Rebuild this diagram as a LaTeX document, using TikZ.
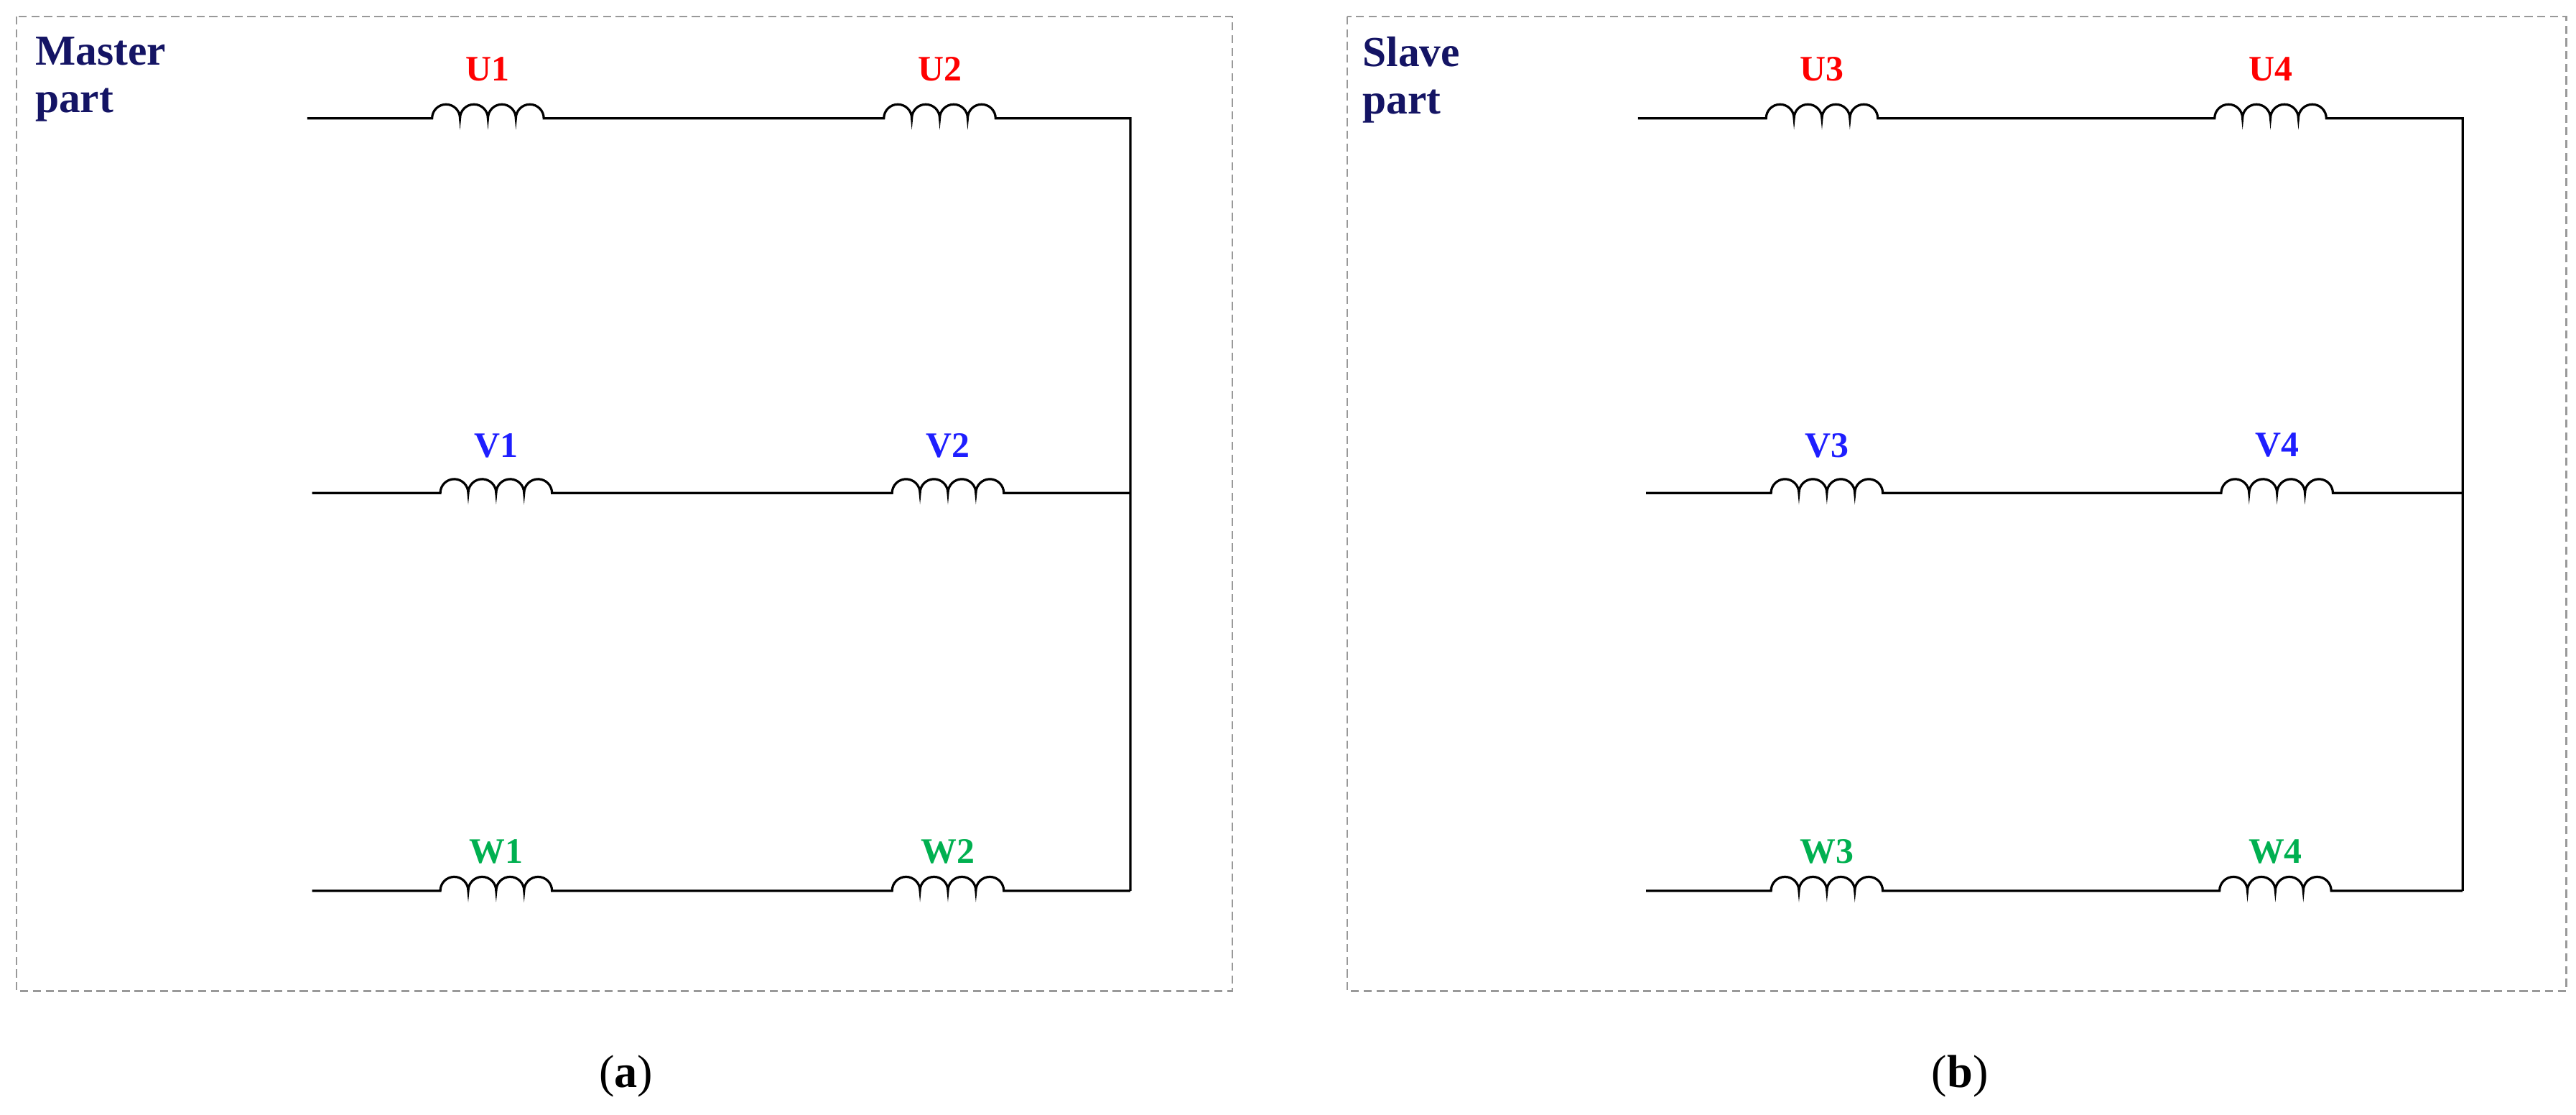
\documentclass[tikz,border=0pt]{standalone}
\usepackage{fontspec}
\setmainfont{Liberation Serif}
\begin{document}
\begin{tikzpicture}[x=0.05cm,y=-0.05cm,
  wire/.style={line width=2pt,black},
  coil/.style={to path={ arc[start angle=180,end angle=0,radius=0.425cm] arc[start angle=180,end angle=0,radius=0.425cm] arc[start angle=180,end angle=0,radius=0.425cm] arc[start angle=180,end angle=0,radius=0.425cm] -- (\tikztotarget)}},
  frame/.style={draw=gray!80,line width=1.5pt,dash pattern=on 7pt off 4pt},
  lab/.style={font=\fontsize{31}{33}\selectfont\bfseries},
  ured/.style={lab,text=red},
  vblue/.style={lab,text={rgb,255:red,30;green,30;blue,255}},
  wgreen/.style={lab,text={rgb,255:red,0;green,176;blue,80}},
  title/.style={font=\fontsize{37}{41}\selectfont\bfseries,text={rgb,255:red,20;green,20;blue,100},align=left,anchor=north west},
  captxt/.style={font=\fontsize{40}{44}\selectfont}]
\useasboundingbox (0,0) rectangle (1568,678);
\draw[frame] (10,10) rectangle (750,603);
\draw[frame] (820,10) rectangle (1562,603);
\node[title] (tm) at (19,20) {Master\\part};
\node[title] (ts) at (827,20) {Slave\\part};
% panel a
\coordinate (sU) at (187,72); \coordinate (U1a) at (263,72); \coordinate (U1b) at (331,72);
\coordinate (U2a) at (538,72); \coordinate (U2b) at (606,72); \coordinate (eU) at (688,72);
\coordinate (sV) at (190,300); \coordinate (V1a) at (268,300); \coordinate (V1b) at (336,300);
\coordinate (V2a) at (543,300); \coordinate (V2b) at (611,300); \coordinate (eV) at (688,300);
\coordinate (sW) at (190,542); \coordinate (W1a) at (268,542); \coordinate (W1b) at (336,542);
\coordinate (W2a) at (543,542); \coordinate (W2b) at (611,542); \coordinate (eW) at (688,542);
\draw[wire] (sU) -- (U1a) to[coil] (U1b) -- (U2a) to[coil] (U2b) -- (eU) -- (eW);
\draw[wire] (sV) -- (V1a) to[coil] (V1b) -- (V2a) to[coil] (V2b) -- (eV);
\draw[wire] (sW) -- (W1a) to[coil] (W1b) -- (W2a) to[coil] (W2b) -- (eW);
\node[ured] (lU1) at (297,42) {U1}; \node[ured] (lU2) at (572,42) {U2};
\node[vblue] (lV1) at (302,271) {V1}; \node[vblue] (lV2) at (577,271) {V2};
\node[wgreen] (lW1) at (302,518) {W1}; \node[wgreen] (lW2) at (577,518) {W2};
% panel b
\coordinate (sU3) at (997,72); \coordinate (U3a) at (1075,72); \coordinate (U3b) at (1143,72);
\coordinate (U4a) at (1348,72); \coordinate (U4b) at (1416,72); \coordinate (eU3) at (1499,72);
\coordinate (sV3) at (1002,300); \coordinate (V3a) at (1078,300); \coordinate (V3b) at (1146,300);
\coordinate (V4a) at (1352,300); \coordinate (V4b) at (1420,300); \coordinate (eV3) at (1499,300);
\coordinate (sW3) at (1002,542); \coordinate (W3a) at (1078,542); \coordinate (W3b) at (1146,542);
\coordinate (W4a) at (1351,542); \coordinate (W4b) at (1419,542); \coordinate (eW3) at (1499,542);
\draw[wire] (sU3) -- (U3a) to[coil] (U3b) -- (U4a) to[coil] (U4b) -- (eU3) -- (eW3);
\draw[wire] (sV3) -- (V3a) to[coil] (V3b) -- (V4a) to[coil] (V4b) -- (eV3);
\draw[wire] (sW3) -- (W3a) to[coil] (W3b) -- (W4a) to[coil] (W4b) -- (eW3);
\node[ured] (lU3) at (1109,42) {U3}; \node[ured] (lU4) at (1382,42) {U4};
\node[vblue] (lV3) at (1112,271) {V3}; \node[vblue] (lV4) at (1386,271) {V4};
\node[wgreen] (lW3) at (1112,518) {W3}; \node[wgreen] (lW4) at (1385,518) {W4};
\node[captxt] (ca) at (381,655) {(\textbf{a})};
\node[captxt] (cb) at (1193,655) {(\textbf{b})};
\end{tikzpicture}
\end{document}
